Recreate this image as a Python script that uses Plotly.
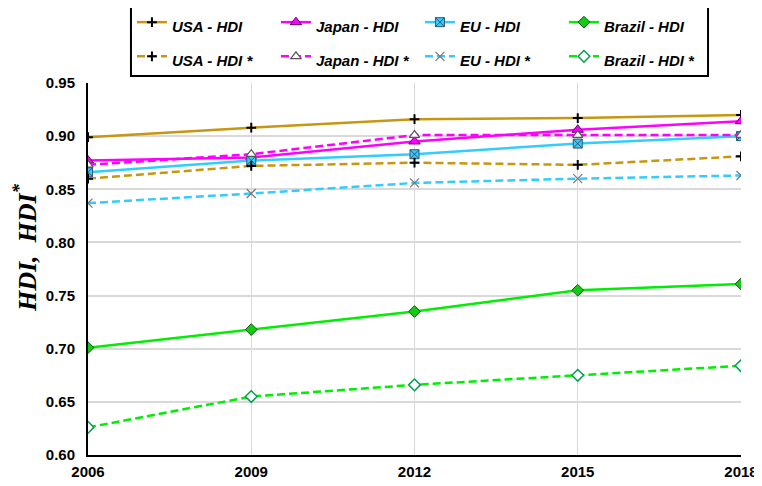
import plotly.graph_objects as go

years = [2006, 2009, 2012, 2015, 2018]

usa_hdi = [0.899, 0.908, 0.916, 0.917, 0.920]
japan_hdi = [0.877, 0.880, 0.895, 0.906, 0.914]
eu_hdi = [0.866, 0.877, 0.883, 0.893, 0.900]
brazil_hdi = [0.701, 0.718, 0.735, 0.755, 0.761]

usa_hdi_star = [0.860, 0.872, 0.875, 0.873, 0.881]
japan_hdi_star = [0.873, 0.883, 0.901, 0.901, 0.901]
eu_hdi_star = [0.837, 0.846, 0.856, 0.860, 0.863]
brazil_hdi_star = [0.626, 0.655, 0.666, 0.675, 0.684]

USA_C = "#c8960f"
JAPAN_C = "#ff00ff"
EU_C = "#33ccff"
BRAZIL_C = "#00ee00"
DASH = "8px,4px"

# (name, values, line colour, dash, marker dict)
series = [
    ("USA - HDI", usa_hdi, USA_C, "solid",
     dict(symbol="cross-thin", size=7, line=dict(color="black", width=2))),
    ("Japan - HDI", japan_hdi, JAPAN_C, "solid",
     dict(symbol="triangle-up", size=10, color=JAPAN_C, line=dict(color="#660066", width=1))),
    ("EU - HDI", eu_hdi, EU_C, "solid",
     dict(symbol="square-x", size=9, color=EU_C, line=dict(color="#335577", width=1))),
    ("Brazil - HDI", brazil_hdi, BRAZIL_C, "solid",
     dict(symbol="diamond", size=9, color="#11cc11", line=dict(color="#115511", width=1))),
    ("USA - HDI *", usa_hdi_star, USA_C, DASH,
     dict(symbol="cross-thin", size=7, line=dict(color="black", width=2))),
    ("Japan - HDI *", japan_hdi_star, JAPAN_C, DASH,
     dict(symbol="triangle-up", size=9, color="white", line=dict(color="#555555", width=1.2))),
    ("EU - HDI *", eu_hdi_star, EU_C, DASH,
     dict(symbol="x-thin", size=9, line=dict(color="#777777", width=1.2))),
    ("Brazil - HDI *", brazil_hdi_star, BRAZIL_C, DASH,
     dict(symbol="diamond", size=9, color="white", line=dict(color="#00a050", width=1.5))),
]

fig = go.Figure()
for name, vals, color, dash, marker in series:
    fig.add_trace(go.Scatter(
        x=years, y=vals, mode="lines+markers",
        # legend font is big only to space the rows; the label itself is 15px
        name='<span style="font-size:15px">' + name + "</span>",
        line=dict(color=color, width=2.5, dash=dash),
        marker=marker,
    ))

# page has an 8px body margin, so the figure is 8px smaller than the window
fig.update_layout(
    width=754, height=478,
    margin=dict(l=80, r=21, t=75, b=31, autoexpand=False),
    paper_bgcolor="white", plot_bgcolor="white",
    font=dict(family="Liberation Sans", color="black"),
    legend=dict(
        orientation="h", x=0.0673, xanchor="left", y=1.223, yanchor="top",
        entrywidth=99, entrywidthmode="pixels",
        borderwidth=0, bgcolor="rgba(0,0,0,0)",
        font=dict(family="Liberation Sans", size=24, weight="bold", style="italic"),
    ),
    shapes=[dict(type="rect", xref="paper", yref="paper",
                 x0=0.0658, x1=0.9495, y0=1.0188, y1=1.2177,
                 line=dict(color="black", width=2), fillcolor="white", layer="below")],
    annotations=[dict(text="HDI, \u00a0HDI<sup>*</sup>", textangle=-90,
                      xref="paper", yref="paper", x=-0.0949, y=0.5565,
                      xanchor="center", yanchor="middle", showarrow=False,
                      font=dict(family="Liberation Serif", size=26, weight="bold", style="italic"))],
)

fig.update_xaxes(
    range=[2006, 2018], tickvals=years,
    showgrid=True, gridcolor="#d9d9d9", gridwidth=1,
    showline=True, linecolor="black", linewidth=2,
    tickfont=dict(size=15, weight="bold"),
    ticks="", ticklabelstandoff=2,
)
fig.update_yaxes(
    range=[0.60, 0.95], dtick=0.05, tickformat=".2f",
    showgrid=True, gridcolor="#d9d9d9", gridwidth=2,
    showline=True, linecolor="black", linewidth=2,
    tickfont=dict(size=15, weight="bold"),
    ticks="", ticklabelstandoff=8,
)

fig.write_html("out.html")
